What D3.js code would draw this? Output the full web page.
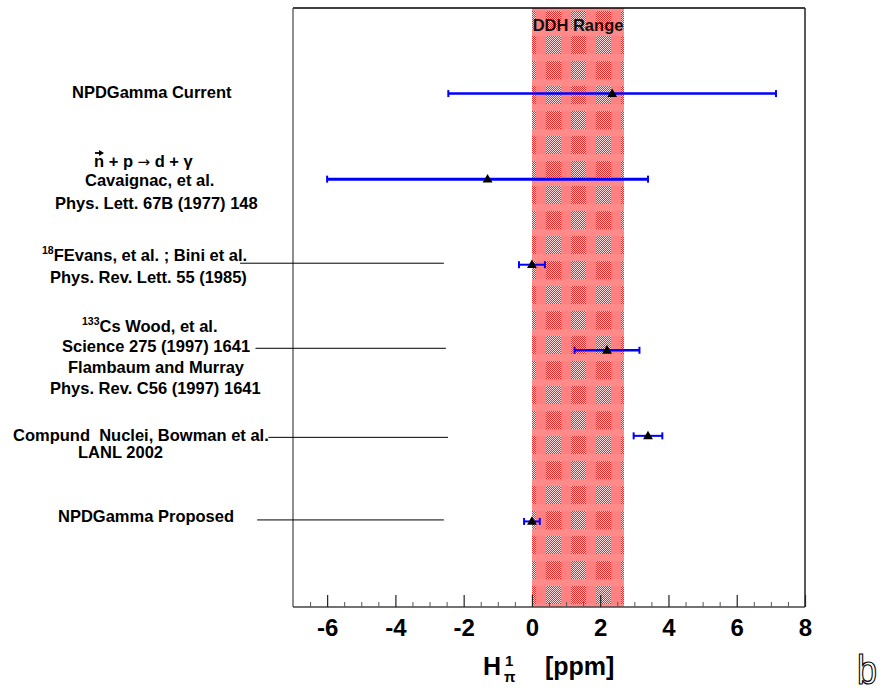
<!DOCTYPE html>
<html>
<head>
<meta charset="utf-8">
<script src="https://cdn.jsdelivr.net/npm/d3@7"></script>
<style>
  html, body { margin: 0; padding: 0; background: #fff; }
  svg { display: block; }
  text { font-family: "Liberation Sans", Arial, sans-serif; }
</style>
</head>
<body>
<div id="chart"></div>
<script>
// Measurements of the weak pion-nucleon coupling H_pi^1 (ppm), one row each.
const rows     = [6, 5, 4, 3, 2, 1];
const values   = [2.35, -1.3, 0.0, 2.2, 3.4, 0.0];
const errors   = [4.8, 4.7, 0.38, 0.95, 0.42, 0.23];
const barWidth = [2.5, 3, 2, 2.5, 2, 2];

// Leader lines from the text labels into the plot (x in ppm, row index)
const leaderRows  = [4, 3, 2, 1];
const leaderFrom  = [-8.55, -8.1, -7.72, -8.05];
const leaderTo    = [-2.58, -2.52, -2.46, -2.58];
const leaderShift = [-1.5, -2, 1.5, -1.5];

// Theoretical DDH "reasonable range"
const ddhRange = [0, 2.7];

const majorTicks = [-6, -4, -2, 0, 2, 4, 6, 8];
const minorTicks = [-6.5, -5.5, -5, -4.5, -3.5, -3, -2.5, -1.5, -1, -0.5,
                    0.5, 1, 1.5, 2.5, 3, 3.5, 4.5, 5, 5.5, 6.5, 7, 7.5];

// Label lines: [text pieces, x, baseline]; piece flag 1 = superscript
const labelLines = [
  { parts: [["NPDGamma Current", 0]], x: 72, y: 98 },
  { parts: [["n + p ", 0], ["\u2192", 2], [" d + \u03b3", 0]], x: 94, y: 167, arrow: true },
  { parts: [["Cavaignac, et al.", 0]], x: 85, y: 186 },
  { parts: [["Phys. Lett. 67B (1977) 148", 0]], x: 55, y: 209 },
  { parts: [["18", 1], ["FEvans, et al. ; Bini et al.", 0]], x: 42, y: 261 },
  { parts: [["Phys. Rev. Lett. 55 (1985)", 0]], x: 50, y: 283 },
  { parts: [["133", 1], ["Cs Wood, et al.", 0]], x: 82, y: 332 },
  { parts: [["Science 275 (1997) 1641", 0]], x: 62, y: 352 },
  { parts: [["Flambaum and Murray", 0]], x: 68, y: 373 },
  { parts: [["Phys. Rev. C56 (1997) 1641", 0]], x: 50, y: 394 },
  { parts: [["Compund\u00a0 Nuclei, Bowman et al.", 0]], x: 13, y: 441 },
  { parts: [["LANL 2002", 0]], x: 78, y: 458 },
  { parts: [["NPDGamma Proposed", 0]], x: 58, y: 522 }
];

const W = 893, H = 693;
const svg = d3.select("#chart").append("svg")
  .attr("width", W).attr("height", H);

const x = d3.scaleLinear().domain([-7, 8]).range([293, 805]);
const y = d3.scaleLinear().domain([0, 7]).range([607, 8]);

// ---- hatched fill for the DDH band: checkered cells in a plaid of solid stripes
const defs = svg.append("defs");
const chk = defs.append("pattern").attr("id", "chk")
  .attr("patternUnits", "userSpaceOnUse").attr("width", 2).attr("height", 2);
chk.append("rect").attr("width", 2).attr("height", 2).attr("fill", "#ffdada");
chk.append("rect").attr("x", 0).attr("y", 0).attr("width", 1).attr("height", 1).attr("fill", "#ff2020");
chk.append("rect").attr("x", 1).attr("y", 1).attr("width", 1).attr("height", 1).attr("fill", "#ff2020");

const plaid = defs.append("pattern").attr("id", "plaid")
  .attr("patternUnits", "userSpaceOnUse")
  .attr("x", Math.round(x(ddhRange[0])) + 4).attr("y", 4)
  .attr("width", 25).attr("height", 25);
plaid.append("rect").attr("width", 25).attr("height", 25).attr("fill", "url(#chk)");
plaid.append("rect").attr("x", 0).attr("y", 0).attr("width", 10).attr("height", 25).attr("fill", "#ff8080");
plaid.append("rect").attr("x", 0).attr("y", 0).attr("width", 25).attr("height", 7).attr("fill", "#ff8a8a");

svg.append("rect")
  .attr("x", Math.round(x(ddhRange[0])))
  .attr("y", y(7))
  .attr("width", Math.round(x(ddhRange[1]) - x(ddhRange[0])))
  .attr("height", y(0) - y(7))
  .attr("fill", "url(#plaid)");

svg.append("text")
  .attr("x", (x(ddhRange[0]) + x(ddhRange[1])) / 2)
  .attr("y", 31)
  .attr("text-anchor", "middle")
  .attr("font-weight", "bold")
  .attr("font-size", 16.5)
  .attr("fill", "#111")
  .text("DDH Range");

// ---- frame
svg.append("line").attr("x1", x(-7)).attr("x2", x(8)).attr("y1", y(7)).attr("y2", y(7))
  .attr("stroke", "#000").attr("stroke-width", 1.5);
svg.append("line").attr("x1", x(-7)).attr("x2", x(-7)).attr("y1", y(7)).attr("y2", y(0))
  .attr("stroke", "#444").attr("stroke-width", 1.2);
svg.append("line").attr("x1", x(8)).attr("x2", x(8)).attr("y1", y(7)).attr("y2", y(0))
  .attr("stroke", "#222").attr("stroke-width", 1.5);
svg.append("line").attr("x1", x(-7)).attr("x2", x(8)).attr("y1", y(0)).attr("y2", y(0))
  .attr("stroke", "#444").attr("stroke-width", 1.5);

// ---- x axis: inward ticks, bold labels
const minorAxis = svg.append("g").attr("transform", `translate(0,${y(0)})`)
  .call(d3.axisBottom(x).tickValues(minorTicks).tickSize(-5).tickFormat(""));
minorAxis.select(".domain").remove();
minorAxis.selectAll("line").attr("stroke", "#555");

const majorAxis = svg.append("g").attr("transform", `translate(0,${y(0)})`)
  .call(d3.axisBottom(x).tickValues(majorTicks).tickSize(-12).tickPadding(12)
        .tickFormat(d3.format("d")));
majorAxis.select(".domain").remove();
majorAxis.selectAll("line").attr("stroke", "#222").attr("stroke-width", 1.2);
majorAxis.selectAll("text")
  .attr("font-family", "'Liberation Sans', Arial, sans-serif")
  .attr("font-size", 24).attr("font-weight", "bold").attr("fill", "#000")
  .text(d => d < 0 ? "-" + Math.abs(d) : d);

// axis title  H^1_pi  [ppm]
const title = svg.append("g").attr("font-weight", "bold").attr("fill", "#000");
title.append("text").attr("x", 483).attr("y", 675).attr("font-size", 25).text("H");
title.append("text").attr("x", 505).attr("y", 666).attr("font-size", 15).text("1");
title.append("text").attr("x", 504).attr("y", 682).attr("font-size", 15).text("\u03c0");
title.append("text").attr("x", 545).attr("y", 675).attr("font-size", 25).text("[ppm]");

// ---- leader lines
svg.append("g").selectAll("line").data(leaderRows).join("line")
  .attr("x1", (d, i) => x(leaderFrom[i]))
  .attr("x2", (d, i) => x(leaderTo[i]))
  .attr("y1", (d, i) => y(d) + leaderShift[i])
  .attr("y2", (d, i) => y(d) + leaderShift[i])
  .attr("stroke", "#000").attr("stroke-width", 1);

// ---- error bars
const eb = svg.append("g").attr("stroke", "#0000ff");
eb.selectAll("line.bar").data(values).join("line").attr("class", "bar")
  .attr("x1", (d, i) => x(d - errors[i]))
  .attr("x2", (d, i) => x(d + errors[i]))
  .attr("y1", (d, i) => y(rows[i]))
  .attr("y2", (d, i) => y(rows[i]))
  .attr("stroke-width", (d, i) => barWidth[i]);
const caps = [];
values.forEach((v, i) => { caps.push([v - errors[i], rows[i]]); caps.push([v + errors[i], rows[i]]); });
eb.selectAll("line.cap").data(caps).join("line").attr("class", "cap")
  .attr("x1", d => x(d[0])).attr("x2", d => x(d[0]))
  .attr("y1", d => y(d[1]) - 3.5).attr("y2", d => y(d[1]) + 3.5)
  .attr("stroke-width", 2);

// ---- markers
svg.append("g").selectAll("path").data(values).join("path")
  .attr("d", d3.symbol(d3.symbolTriangle, 42))
  .attr("transform", (d, i) => `translate(${x(d)},${y(rows[i]) + 0.5})`)
  .attr("fill", "#000");

// ---- row labels
const lab = svg.append("g").attr("font-weight", "bold").attr("font-size", 16.5).attr("fill", "#000");
labelLines.forEach(l => {
  const t = lab.append("text").attr("x", l.x).attr("y", l.y);
  let raised = false;
  l.parts.forEach(p => {
    if (p[1] === 1) {
      t.append("tspan").attr("font-size", 10.5).attr("dy", -7).text(p[0]);
      raised = true;
    } else if (p[1] === 2) {
      t.append("tspan").attr("font-family", "'DejaVu Sans', sans-serif")
        .attr("font-weight", "normal").attr("font-size", 15).text(p[0]);
    } else {
      const s = t.append("tspan").text(p[0]);
      if (raised) { s.attr("dy", 7); raised = false; }
    }
  });
  if (l.arrow) {
    // vector arrow over the neutron symbol
    lab.append("line").attr("x1", l.x + 1).attr("x2", l.x + 8)
      .attr("y1", l.y - 14).attr("y2", l.y - 14)
      .attr("stroke", "#000").attr("stroke-width", 1.8);
    lab.append("path")
      .attr("d", `M${l.x + 5},${l.y - 17} L${l.x + 10},${l.y - 14} L${l.x + 5},${l.y - 11} Z`)
      .attr("fill", "#000");
  }
});

// ---- panel letter
svg.append("text")
  .attr("transform", "translate(857,684) scale(0.9,1)")
  .attr("font-family", "'DejaVu Sans', sans-serif")
  .attr("font-size", 40)
  .attr("fill", "#fff").attr("stroke", "#000").attr("stroke-width", 1.2)
  .text("b");
</script>
</body>
</html>
